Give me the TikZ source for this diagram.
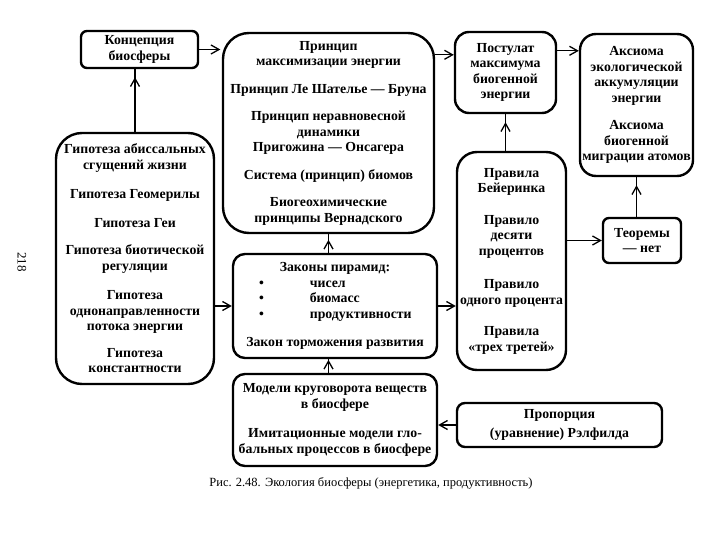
\documentclass[tikz,border=0pt]{standalone}
\usepackage{fontspec}
\setmainfont{Liberation Serif}
\usetikzlibrary{arrows.meta,decorations.markings}
\tikzset{
  box/.style={draw, line width=2.4pt, align=center, inner sep=0pt,
    font=\bfseries\fontsize{13.8}{15.5}\selectfont},
  conn/.style={line width=1.3pt, -{Straight Barb[length=8pt,width=9pt,line width=1.3pt]}},
  plain/.style={line width=1.3pt},
  headat/.style={postaction={decorate}, decoration={markings,
    mark=at position #1 with {\arrow{Straight Barb[length=8pt,width=9pt,line width=1.3pt]}}}}
}
\begin{document}
\begin{tikzpicture}[x=1pt,y=-1pt]
\useasboundingbox[fill=white] (0,0) rectangle (720,540);

\node[box, rounded corners=6pt, minimum width=117pt, minimum height=37pt] (b1) at (139.5,49.5)
  {Концепция\\биосферы};
\node[box, rounded corners=26pt, minimum width=211pt, minimum height=200pt] (b2) at (328.5,133)
  {Принцип\\максимизации энергии\\[12pt]
   Принцип Ле Шателье — Бруна\\[12pt]
   Принцип неравновесной\\динамики\\Пригожина — Онсагера\\[12pt]
   Система (принцип) биомов\\[12pt]
   Биогеохимические\\принципы Вернадского};
\node[box, rounded corners=14pt, minimum width=101pt, minimum height=81pt] (b3) at (505.5,72.5)
  {Постулат\\максимума\\биогенной\\энергии};
\node[box, rounded corners=16pt, minimum width=113pt, minimum height=142pt] (b4) at (636.5,105)
  {Аксиома\\экологической\\аккумуляции\\энергии\\[12pt]
   Аксиома\\биогенной\\миграции атомов};
\node[box, rounded corners=26pt, minimum width=158pt, minimum height=251pt] (b5) at (135,258.5)
  {Гипотеза абиссальных\\сгущений жизни\\[14pt]
   Гипотеза Геомерилы\\[13pt]
   Гипотеза Геи\\[12pt]
   Гипотеза биотической\\регуляции\\[14pt]
   Гипотеза\\однонаправленности\\потока энергии\\[11pt]
   Гипотеза\\константности};
\node[box, rounded corners=12pt, minimum width=204pt, minimum height=104pt] (b6) at (335,306)
  {Законы пирамид:\\
   \makebox[180pt][l]{\hspace*{14pt}•\hspace{46pt}чисел}\\
   \makebox[180pt][l]{\hspace*{14pt}•\hspace{46pt}биомасс}\\
   \makebox[180pt][l]{\hspace*{14pt}•\hspace{46pt}продуктивности}\\[13pt]
   Закон торможения развития};
\node[box, rounded corners=20pt, minimum width=109pt, minimum height=218pt] (b7) at (511.5,261)
  {Правила\\Бейеринка\\[16pt]
   Правило\\десяти\\процентов\\[18pt]
   Правило\\одного процента\\[16pt]
   Правила\\«трех третей»};
\node[box, rounded corners=6pt, minimum width=78pt, minimum height=45pt] (b8) at (642,240.5)
  {Теоремы\\— нет};
\node[box, rounded corners=12pt, minimum width=204pt, minimum height=92pt] (b9) at (335,420)
  {Модели круговорота веществ\\в биосфере\\[14pt]
   Имитационные модели гло-\\бальных процессов в биосфере};
\node[box, rounded corners=8pt, minimum width=205pt, minimum height=44pt] (b10) at (559.5,425)
  {Пропорция\\[4pt](уравнение) Рэлфилда};

\node[font=\fontsize{12.5}{15}\selectfont, inner sep=0pt] (cap) at (371,483)
  {Рис. 2.48. Экология биосферы (энергетика, продуктивность)};
\node[font=\fontsize{13}{15}\selectfont, rotate=-90, inner sep=0pt] (pg) at (22,262) {218};

% horizontal connectors
\draw[conn, shorten >=1.5pt] (b1.east) -- (b1.east -| b2.west);
\draw[conn] ([yshift=-24pt]b3.north west -| b2.east) -- ([yshift=-24pt]b3.north west);
\draw[conn] ([yshift=-20pt]b3.north east) -- ([yshift=-20pt]b3.north east -| b4.west);
\draw[conn] (b5.east |- b6.west) -- (b6.west);
\draw[conn] (b6.east) -- (b6.east -| b7.west);
\draw[conn] (b7.east |- b8.west) -- (b8.west);
\draw[conn] (b10.west) -- (b10.west -| b9.east);

% vertical connectors
\draw[plain, headat=-8pt] (b5.north) -- (b5.north |- b1.south);
\draw[plain, headat=-8pt] (b3.south |- b7.north) -- (b3.south);
\draw[plain, headat=-8pt] (b4.south |- b8.north) -- (b4.south);
\draw[plain, headat=13pt] (b2.south |- b6.north) -- (b2.south);
\draw[plain, headat=13pt] (b2.south |- b9.north) -- (b2.south |- b6.south);
\end{tikzpicture}
\end{document}
